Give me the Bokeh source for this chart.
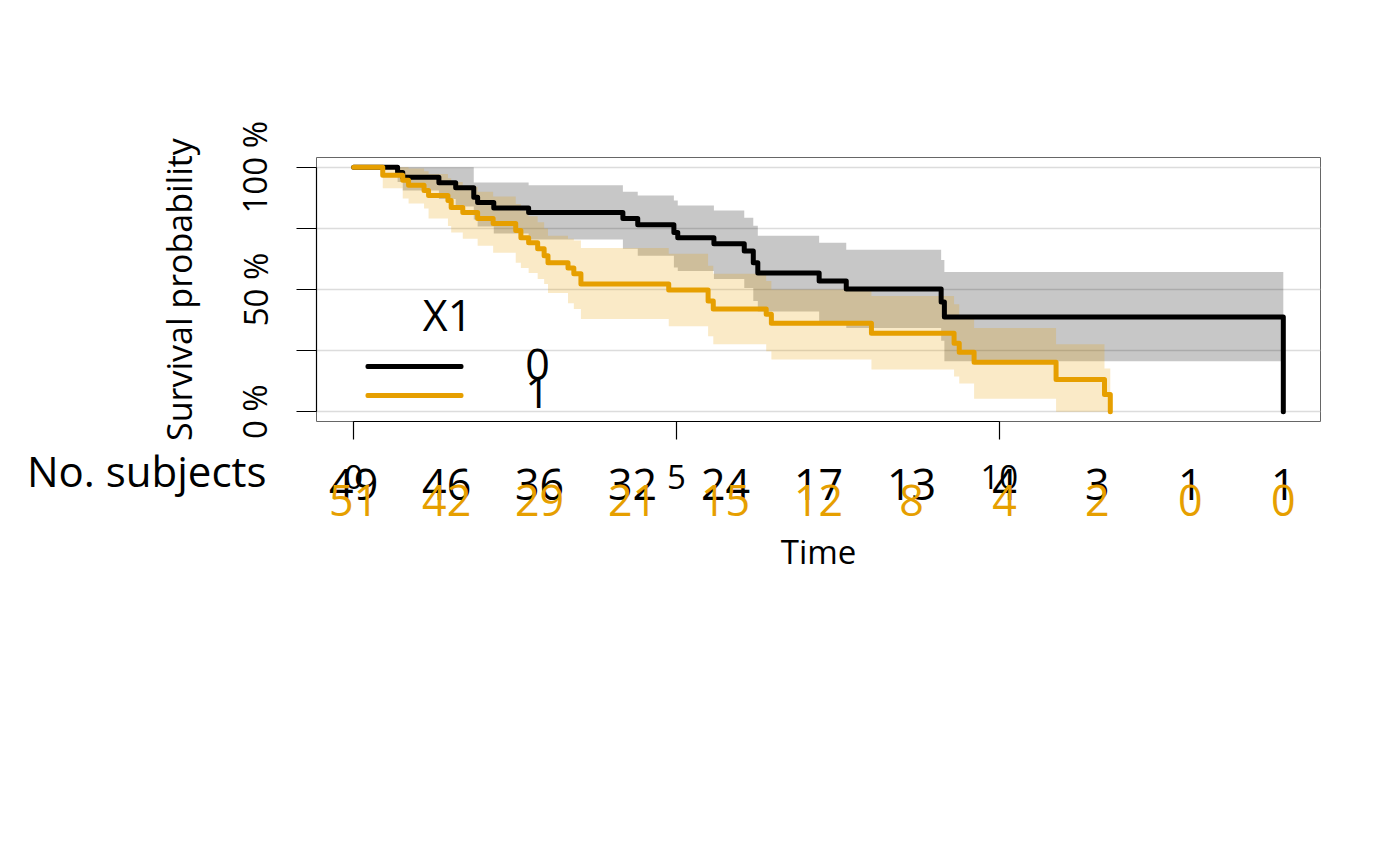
from bokeh.plotting import figure
from bokeh.models import Range1d, FixedTicker, Label, BoxAnnotation
from bokeh.core.properties import value
from bokeh.embed import file_html
from bokeh.resources import INLINE

FONT = "Open Sans"
BLACK = "#000000"
ORANGE = "#E69F00"

legend_title = "X1"
group_names = ["0", "1"]

# ---- group 0 (black) Kaplan-Meier estimate and confidence band ----
black_time = [0, 0.68, 0.76, 1.32, 1.58, 1.86, 1.92, 2.17, 2.71, 4.17, 4.40, 4.96,
              5.02, 5.58, 6.05, 6.19, 6.26, 7.21, 7.63, 9.10, 9.15, 14.40]
black_surv = [1.0, 0.979, 0.959, 0.937, 0.916, 0.877, 0.856, 0.833, 0.815, 0.790,
              0.765, 0.733, 0.712, 0.687, 0.658, 0.609, 0.568, 0.535, 0.502, 0.449,
              0.387, 0.0]
black_upper = [1.0, 1.0, 1.0, 1.0, 1.0, 0.938, 0.938, 0.938, 0.926, 0.900, 0.885,
               0.864, 0.844, 0.823, 0.794, 0.761, 0.720, 0.691, 0.663, 0.621, 0.572,
               0.572]
black_lower = [1.0, 0.940, 0.905, 0.870, 0.840, 0.786, 0.758, 0.729, 0.705, 0.667,
               0.638, 0.590, 0.576, 0.543, 0.506, 0.453, 0.410, 0.370, 0.342, 0.290,
               0.206, 0.206]

# ---- group 1 (orange) ----
orange_time = [0, 0.45, 0.76, 0.85, 1.09, 1.16, 1.46, 1.51, 1.69, 1.92, 2.16, 2.51,
               2.59, 2.71, 2.85, 2.95, 3.01, 3.32, 3.41, 3.52, 4.88, 5.49, 5.57, 6.39,
               6.47, 8.02, 9.30, 9.38, 9.61, 10.88, 11.63, 11.72]
orange_surv = [1.0, 0.967, 0.947, 0.926, 0.905, 0.885, 0.864, 0.835, 0.815, 0.790,
               0.770, 0.741, 0.712, 0.691, 0.667, 0.638, 0.609, 0.588, 0.564, 0.523,
               0.498, 0.453, 0.420, 0.399, 0.362, 0.321, 0.280, 0.243, 0.202, 0.132,
               0.070, 0.0]
orange_upper = [1.0, 1.0, 1.0, 0.995, 0.984, 0.972, 0.955, 0.940, 0.920, 0.900,
                0.880, 0.850, 0.823, 0.800, 0.775, 0.750, 0.720, 0.708, 0.700, 0.670,
                0.646, 0.597, 0.564, 0.535, 0.500, 0.473, 0.440, 0.379, 0.342, 0.276,
                0.177, 0.177]
orange_lower = [1.0, 0.914, 0.872, 0.852, 0.831, 0.790, 0.760, 0.733, 0.708, 0.679,
                0.650, 0.609, 0.588, 0.568, 0.543, 0.523, 0.486, 0.444, 0.420, 0.379,
                0.350, 0.309, 0.276, 0.247, 0.214, 0.173, 0.144, 0.115, 0.053, 0.0,
                0.0, 0.0]

# ---- numbers at risk ----
risk_label = "No. subjects"
risk_time = [0, 1.44, 2.88, 4.32, 5.76, 7.20, 8.64, 10.08, 11.52, 12.96, 14.40]
risk_0 = [49, 46, 36, 32, 24, 17, 13, 4, 3, 1, 1]
risk_1 = [51, 42, 29, 21, 15, 12, 8, 4, 2, 0, 0]

x_ticks = [0, 5, 10]
x_title = "Time"
y_title = "Survival probability"
y_ticks = [0, 0.25, 0.5, 0.75, 1.0]
y_tick_labels = {0: "0 %", 0.25: "", 0.5: "50 %", 0.75: "", 1.0: "100 %"}


def band_steps(t, v):
    xs, ys = [], []
    for i in range(len(t) - 1):
        xs += [t[i], t[i + 1]]
        ys += [v[i], v[i]]
    return xs, ys


# ---------------- layout geometry (pixels) ----------------
W, H = 1400, 866
LEFT, RIGHT, TOP = 316, 80, 157
FRAME_BOTTOM = 421
MAIN_H = FRAME_BOTTOM + 20
TABLE_H = H - MAIN_H

t_max = max(black_time[-1], orange_time[-1])
pad_x = 0.04 * t_max
x0, x1 = -pad_x, t_max + pad_x

p = figure(width=W, height=MAIN_H,
           x_range=Range1d(x0, x1), y_range=Range1d(-0.04, 1.04),
           output_backend="svg", toolbar_location=None,
           min_border_left=LEFT, min_border_right=RIGHT,
           min_border_top=TOP, min_border_bottom=MAIN_H - FRAME_BOTTOM)
p.background_fill_color = "white"
p.border_fill_color = "white"
p.outline_line_color = "#666666"
p.outline_line_width = 1

p.xgrid.visible = False
p.ygrid.grid_line_color = "#dcdcdc"
p.ygrid.grid_line_width = 1.3
p.ygrid.ticker = FixedTicker(ticks=y_ticks)

# bands
bx, bl = band_steps(black_time, black_lower)
_, bu = band_steps(black_time, black_upper)
p.varea(x=bx, y1=bl, y2=bu, fill_color=BLACK, fill_alpha=0.22)
ox, ol = band_steps(orange_time, orange_lower)
_, ou = band_steps(orange_time, orange_upper)
p.varea(x=ox, y1=ol, y2=ou, fill_color=ORANGE, fill_alpha=0.22)

# curves
p.step(black_time, black_surv, mode="after", line_color=BLACK, line_width=5,
       line_join="round", line_cap="round")
p.step(orange_time, orange_surv, mode="after", line_color=ORANGE, line_width=5,
       line_join="round", line_cap="round")

# axes
xa = p.xaxis[0]
xa.ticker = FixedTicker(ticks=x_ticks)
xa.bounds = (0, 10)
xa.axis_line_color = BLACK
xa.axis_line_width = 1.2
xa.major_tick_line_color = BLACK
xa.major_tick_line_width = 1.2
xa.major_tick_out = 18
xa.major_tick_in = 0
xa.minor_tick_line_color = None
xa.major_label_text_font_size = "1px"
xa.major_label_text_color = None
xa.major_label_standoff = 0

ya = p.yaxis[0]
ya.ticker = FixedTicker(ticks=y_ticks)
ya.bounds = (0, 1)
ya.major_label_overrides = y_tick_labels
ya.major_label_orientation = "vertical"
ya.axis_line_color = BLACK
ya.axis_line_width = 1.2
ya.major_tick_line_color = BLACK
ya.major_tick_line_width = 1.2
ya.major_tick_out = 20
ya.major_tick_in = 0
ya.minor_tick_line_color = None
ya.major_label_text_font = FONT
ya.major_label_text_font_size = "33px"
ya.major_label_text_color = BLACK
ya.major_label_standoff = 19
ya.axis_label = y_title
ya.axis_label_text_font = FONT
ya.axis_label_text_font_size = "34px"
ya.axis_label_text_font_style = "normal"
ya.axis_label_text_color = BLACK
ya.axis_label_standoff = 28

# legend (drawn by hand, like the original)
for yy, col in [(55, BLACK), (26, ORANGE)]:
    p.add_layout(BoxAnnotation(left=49, right=147, bottom=yy - 2.5, top=yy + 2.5,
                               left_units="screen", right_units="screen",
                               bottom_units="screen", top_units="screen",
                               fill_color=col, fill_alpha=1.0, line_color=None,
                               border_radius=2))
p.add_layout(Label(x=131, y=107, x_units="screen", y_units="screen", text=legend_title,
                   text_font=FONT, text_font_size="43px", text_align="center",
                   text_baseline="middle", text_color=BLACK))
for yy, name in [(57, group_names[0]), (29, group_names[1])]:
    p.add_layout(Label(x=221, y=yy, x_units="screen", y_units="screen", text=name,
                       text_font=FONT, text_font_size="43px", text_align="center",
                       text_baseline="middle", text_color=BLACK))

# ---------------- risk table panel (same time scale, full-width frame) ----------------
scale = (W - RIGHT - LEFT) / (x1 - x0)
t_left = x0 - LEFT / scale
t_right = x1 + RIGHT / scale

q = figure(width=W, height=TABLE_H, x_range=Range1d(t_left, t_right),
           y_range=Range1d(TABLE_H, 0), output_backend="svg",
           toolbar_location=None, x_axis_location=None, y_axis_location=None,
           min_border=0)
q.outline_line_color = None
q.background_fill_color = "white"
q.border_fill_color = "white"
q.grid.visible = False


def row_y(page_y):
    return page_y - MAIN_H


# time tick labels
q.text(x=x_ticks, y=[row_y(476)] * len(x_ticks), text=[str(v) for v in x_ticks],
       text_font=value(FONT), text_font_size=value("33px"), text_align="center",
       text_baseline="middle", text_color=BLACK)
# x title
q.text(x=[(x0 + x1) / 2], y=[row_y(551)], text=[x_title],
       text_font=value(FONT), text_font_size=value("33px"), text_align="center",
       text_baseline="middle", text_color=BLACK)
# row label
q.text(x=[t_left + 266 / scale], y=[row_y(470)], text=[risk_label],
       text_font=value(FONT), text_font_size=value("42px"), text_align="right",
       text_baseline="middle", text_color=BLACK)
for counts, col, yy in [(risk_0, BLACK, 484), (risk_1, ORANGE, 500)]:
    q.text(x=risk_time, y=[row_y(yy)] * len(risk_time), text=[str(c) for c in counts],
           text_font=value(FONT), text_font_size=value("43px"), text_align="center",
           text_baseline="middle", text_color=col)

open("out.html", "w").write(file_html([p, q], INLINE))
